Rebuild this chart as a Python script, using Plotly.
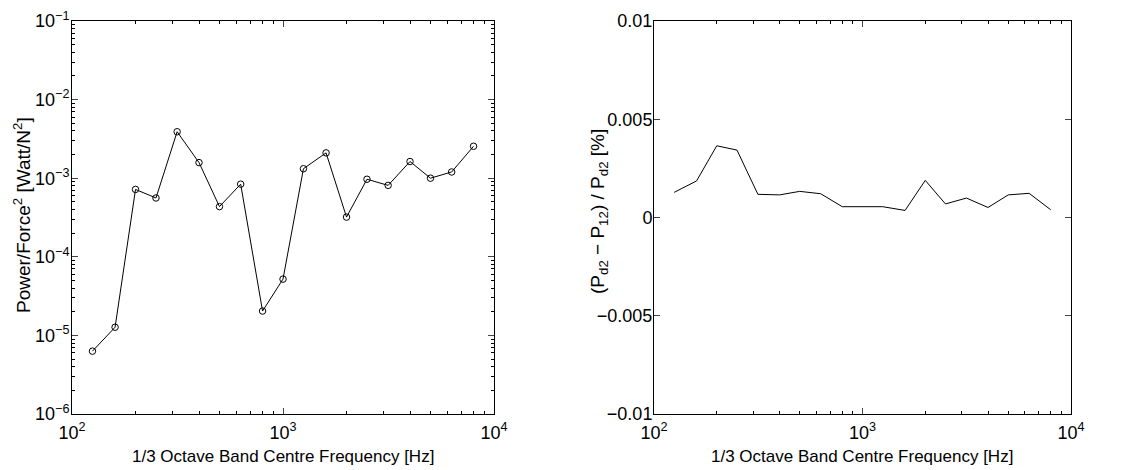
import plotly.graph_objects as go

freq = [125, 160, 200, 250, 315, 400, 500, 630, 800, 1000, 1250, 1600,
        2000, 2500, 3150, 4000, 5000, 6300, 8000]
power = [6.3e-6, 1.27e-5, 7.2e-4, 5.6e-4, 3.9e-3, 1.58e-3, 4.35e-4, 8.4e-4,
         2.04e-5, 5.2e-5, 1.32e-3, 2.1e-3, 3.2e-4, 9.7e-4, 8.1e-4, 1.63e-3,
         1.0e-3, 1.2e-3, 2.55e-3]
diff_pct = [0.00128, 0.00186, 0.00365, 0.00343, 0.00118, 0.00115, 0.00133,
            0.00121, 0.00055, 0.00055, 0.00055, 0.00036, 0.00189, 0.00069,
            0.00099, 0.00051, 0.00115, 0.00123, 0.00039]

x_tickvals = [100, 1000, 10000]
x_ticktext = ["10<sup>2</sup>", "10<sup>3</sup>", "10<sup>4</sup>"]
y1_tickvals = [1e-6, 1e-5, 1e-4, 1e-3, 1e-2, 1e-1]
y1_ticktext = ["10<sup>−6</sup>", "10<sup>−5</sup>", "10<sup>−4</sup>",
               "10<sup>−3</sup>", "10<sup>−2</sup>", "10<sup>−1</sup>"]
y2_tickvals = [-0.01, -0.005, 0, 0.005, 0.01]
y2_ticktext = ["−0.01", "−0.005", "0", "0.005", "0.01"]

xlabel = "1/3 Octave Band Centre Frequency [Hz]"
y1label = "Power/Force<sup>2</sup> [Watt/N<sup>2</sup>]"
y2label = "(P<sub>d2</sub> − P<sub>12</sub>) / P<sub>d2</sub> [%]"

# body margin is removed by post_script, so figure fills the window
W, H = 1132, 470


def xd(a, b):
    return [a / W, b / W]


def yd(top, bottom):
    return [1 - bottom / H, 1 - top / H]


def px(x):
    return x / W


def py(y):
    return 1 - y / H


font = dict(family="Liberation Sans, Arial, sans-serif", size=17, color="black")

fig = go.Figure()
fig.add_trace(go.Scatter(x=freq, y=power, mode="lines+markers",
                         line=dict(color="black", width=1),
                         marker=dict(symbol="circle-open", size=6.5,
                                     color="black", line=dict(width=1)),
                         xaxis="x", yaxis="y", showlegend=False))
fig.add_trace(go.Scatter(x=freq, y=diff_pct, mode="lines",
                         line=dict(color="black", width=1),
                         xaxis="x2", yaxis="y2", showlegend=False))

common_x = dict(type="log", range=[2, 4], tickvals=x_tickvals, ticktext=x_ticktext,
                ticks="inside", ticklen=6, mirror="allticks", showline=True,
                linecolor="black", linewidth=1, showgrid=False, zeroline=False,
                automargin=False, tickfont=dict(size=18), ticklabelstandoff=2,
                minor=dict(ticks="inside", ticklen=3, tickcolor="black",
                           tickvals=[f * m for f in [100, 1000] for m in range(2, 10)]))

fig.update_layout(
    width=W, height=H,
    margin=dict(l=0, r=0, t=0, b=0),
    paper_bgcolor="white", plot_bgcolor="white",
    font=font,
    xaxis=dict(domain=xd(72, 494), anchor="y", **common_x),
    yaxis=dict(domain=yd(21, 414), anchor="x", type="log",
               range=[-6, -1], tickvals=y1_tickvals, ticktext=y1_ticktext,
               ticks="inside", ticklen=6, mirror="allticks", showline=True,
               linecolor="black", linewidth=1, showgrid=False, zeroline=False,
               automargin=False, tickfont=dict(size=18), ticklabelstandoff=-2,
               minor=dict(ticks="inside", ticklen=3, tickcolor="black",
                          tickvals=[f * m for f in [1e-6, 1e-5, 1e-4, 1e-3, 1e-2]
                                    for m in range(2, 10)])),
    xaxis2=dict(domain=xd(654, 1071), anchor="y2", **common_x),
    yaxis2=dict(domain=yd(21, 414), anchor="x2",
                range=[-0.01, 0.01], tickvals=y2_tickvals, ticktext=y2_ticktext,
                ticks="inside", ticklen=6, mirror="allticks", showline=True,
                linecolor="black", linewidth=1, showgrid=False, zeroline=False,
                automargin=False, tickfont=dict(size=18), ticklabelstandoff=-3),
    annotations=[
        dict(text=y1label, x=px(22), y=py(215), xref="paper", yref="paper",
             textangle=-90, showarrow=False, xanchor="center", yanchor="middle",
             font=dict(size=19)),
        dict(text=y2label, x=px(599), y=py(212), xref="paper", yref="paper",
             textangle=-90, showarrow=False, xanchor="center", yanchor="middle",
             font=dict(size=19)),
        dict(text=xlabel, x=px(283), y=py(456), xref="paper", yref="paper",
             showarrow=False, xanchor="center", yanchor="middle", borderpad=0,
             font=dict(size=17)),
        dict(text=xlabel, x=px(862), y=py(456), xref="paper", yref="paper",
             showarrow=False, xanchor="center", yanchor="middle", borderpad=0,
             font=dict(size=17)),
    ],
)

fig.write_html("out.html",
               config={"displayModeBar": False},
               post_script="document.body.style.margin='0px';document.body.style.overflow='hidden';")
